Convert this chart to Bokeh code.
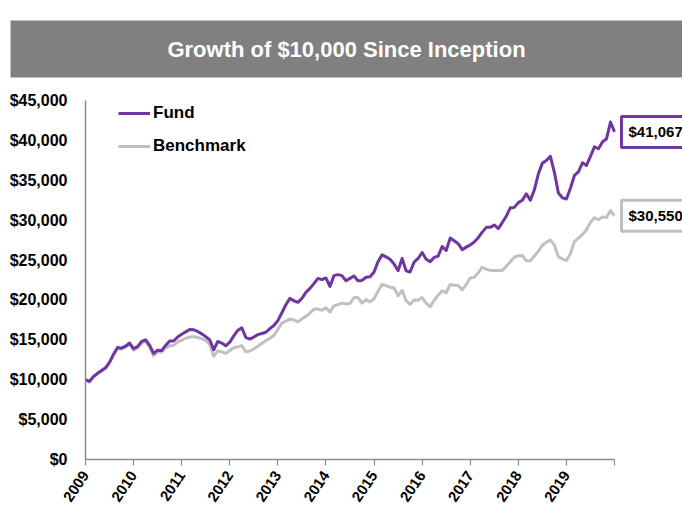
from bokeh.plotting import figure
from bokeh.layouts import column
from bokeh.models import (Range1d, Label, Legend, LegendItem, FixedTicker,
                          NumeralTickFormatter)
from bokeh.embed import file_html
from bokeh.resources import INLINE

# ---------------- data ----------------
title_text = "Growth of $10,000 Since Inception"
series_names = ["Fund", "Benchmark"]
start_year = 2009
year_ticks = list(range(2009, 2021))
year_labels = [str(y) for y in range(2009, 2020)] + [""]
y_ticks = list(range(0, 45001, 5000))

fund = [
    10000, 9800, 10400, 10800, 11150, 11500, 12200, 13200, 14050, 13950,
    14200, 14600, 13900, 14150, 14800, 15000, 14300, 13300, 13700, 13650,
    14300, 14850, 14850, 15350, 15700, 16000, 16300, 16250, 16050, 15750,
    15400, 15000, 13750, 14800, 14600, 14250, 14700, 15500, 16200, 16500,
    15300, 15100, 15350, 15650, 15800, 15950, 16400, 16800, 17400, 18400,
    19400, 20200, 19900, 19700, 20200, 20950, 21450, 22050, 22700, 22550,
    22750, 21700, 23050, 23170, 23050, 22400, 22700, 23000, 22400, 22450,
    22850, 22900, 23500, 24800, 25650, 25400, 25100, 24500, 23660, 25200,
    23650, 23500, 24750, 25200, 25950, 25100, 24800, 25330, 25500, 26700,
    26200, 27750, 27420, 27050, 26300, 26620, 26900, 27250, 27800, 28500,
    29100, 29100, 29400, 28950, 29700, 30500, 31550, 31600, 32200, 32500,
    33290, 32500, 33800, 35800, 37150, 37470, 38000, 36000, 33400, 32800,
    32660, 34000, 35600, 36050, 37200, 36850, 38000, 39200, 38950, 39800,
    40200, 42300, 41067,
]

benchmark = [
    10000, 9700, 10350, 10750, 11100, 11400, 12100, 13100, 13900, 13850,
    14100, 14450, 13700, 14000, 14600, 14800, 14100, 13000, 13500, 13450,
    14000, 14250, 14300, 14750, 14950, 15200, 15350, 15400, 15300, 15150,
    14950, 14400, 12950, 13600, 13500, 13300, 13650, 14000, 14150, 14280,
    13500, 13600, 13850, 14200, 14550, 14900, 15200, 15550, 16300, 17100,
    17350, 17600, 17500, 17250, 17600, 17950, 18350, 18850, 18850, 18700,
    19010, 18500, 19250, 19400, 19600, 19500, 19550, 20300, 20300, 19600,
    20050, 19750, 20150, 21100, 21950, 21800, 21590, 21500, 20550, 21200,
    19900, 19450, 20000, 19950, 20300, 19600, 19150, 19950, 20600, 21150,
    20900, 21950, 21850, 21800, 21260, 21930, 22750, 22830, 23400, 24100,
    23850, 23700, 23680, 23680, 23700, 24200, 24800, 25350, 25550, 25560,
    24900, 24900, 25500, 26100, 26850, 27230, 27500, 26900, 25400, 25150,
    24940, 25800, 27350, 27750, 28200, 28800, 29700, 30300, 30050, 30400,
    30350, 31200, 30550,
]

dates = [start_year + i / 12 for i in range(len(fund))]

FUND_COLOR = "#6f35a0"
BENCH_COLOR = "#c0c0c0"
FONT = "Liberation Sans"
AXIS_COLOR = "#8c8c8c"

# ---------------- title bar ----------------
top = figure(width=682, height=84, output_backend="svg", toolbar_location=None,
             x_range=Range1d(0, 1), y_range=Range1d(0, 1),
             x_axis_type=None, y_axis_type=None,
             min_border_left=10, min_border_right=0,
             min_border_top=20, min_border_bottom=7)
top.frame_align = False
top.background_fill_color = "#808080"
top.border_fill_color = "white"
top.outline_line_color = None
top.grid.visible = False
top.add_layout(Label(x=0.5, y=0.5, text=title_text, text_align="center",
                     text_baseline="middle", text_color="white",
                     text_font=FONT, text_font_style="bold",
                     text_font_size="22px"))

# ---------------- main chart ----------------
p = figure(width=682, height=427, output_backend="svg", toolbar_location=None,
           x_range=Range1d(2009, 2021.414), y_range=Range1d(0, 45000),
           min_border_left=85, min_border_right=0,
           min_border_top=16, min_border_bottom=52)
p.frame_align = False
p.outline_line_color = None
p.grid.visible = False
p.background_fill_color = "white"

r_bench = p.line(dates, benchmark, line_color=BENCH_COLOR, line_width=3,
                 line_join="round")
r_fund = p.line(dates, fund, line_color=FUND_COLOR, line_width=3,
                line_join="round")

# axes
xa = p.xaxis[0]
xa.bounds = (year_ticks[0], year_ticks[-1])
xa.ticker = FixedTicker(ticks=year_ticks)
xa.major_label_overrides = {t: lab for t, lab in zip(year_ticks, year_labels)}
xa.major_label_orientation = 0.98
xa.minor_tick_line_color = None
xa.major_tick_in = 0
xa.major_tick_out = 6
xa.major_label_standoff = 7
xa.axis_line_color = AXIS_COLOR
xa.axis_line_width = 1.5
xa.major_tick_line_color = AXIS_COLOR
xa.major_tick_line_width = 1.2
xa.major_label_text_font = FONT
xa.major_label_text_font_style = "bold"
xa.major_label_text_font_size = "15px"
xa.major_label_text_color = "black"

ya = p.yaxis[0]
ya.ticker = FixedTicker(ticks=y_ticks)
ya.formatter = NumeralTickFormatter(format="$0,0")
ya.minor_tick_line_color = None
ya.major_tick_line_color = None
ya.major_tick_in = 0
ya.major_tick_out = 0
ya.major_label_standoff = 18
ya.axis_line_color = AXIS_COLOR
ya.axis_line_width = 1.5
ya.major_label_text_font = FONT
ya.major_label_text_font_style = "bold"
ya.major_label_text_font_size = "16px"
ya.major_label_text_color = "black"

# legend
legend = Legend(items=[LegendItem(label=series_names[0], renderers=[r_fund]),
                       LegendItem(label=series_names[1], renderers=[r_bench])],
                location=(33, 303), orientation="vertical")
legend.background_fill_alpha = 0
legend.border_line_color = None
legend.padding = 0
legend.margin = 0
legend.spacing = 13
legend.glyph_width = 32
legend.glyph_height = 20
legend.label_height = 20
legend.label_standoff = 3
legend.label_text_font = FONT
legend.label_text_font_style = "bold"
legend.label_text_font_size = "17px"
legend.label_text_color = "black"
p.add_layout(legend)

# end-value boxes
for vals, col in ((fund, FUND_COLOR), (benchmark, BENCH_COLOR)):
    p.add_layout(Label(x=dates[-1], y=vals[-1], x_offset=7,
                       text=f"${vals[-1]:,}", text_align="left",
                       text_baseline="middle", text_font=FONT,
                       text_font_style="bold", text_font_size="15px",
                       text_color="black", background_fill_color="white",
                       border_line_color=col, border_line_width=3,
                       padding=7))

layout = column(top, p, spacing=0)
open("out.html", "w").write(file_html(layout, INLINE))
